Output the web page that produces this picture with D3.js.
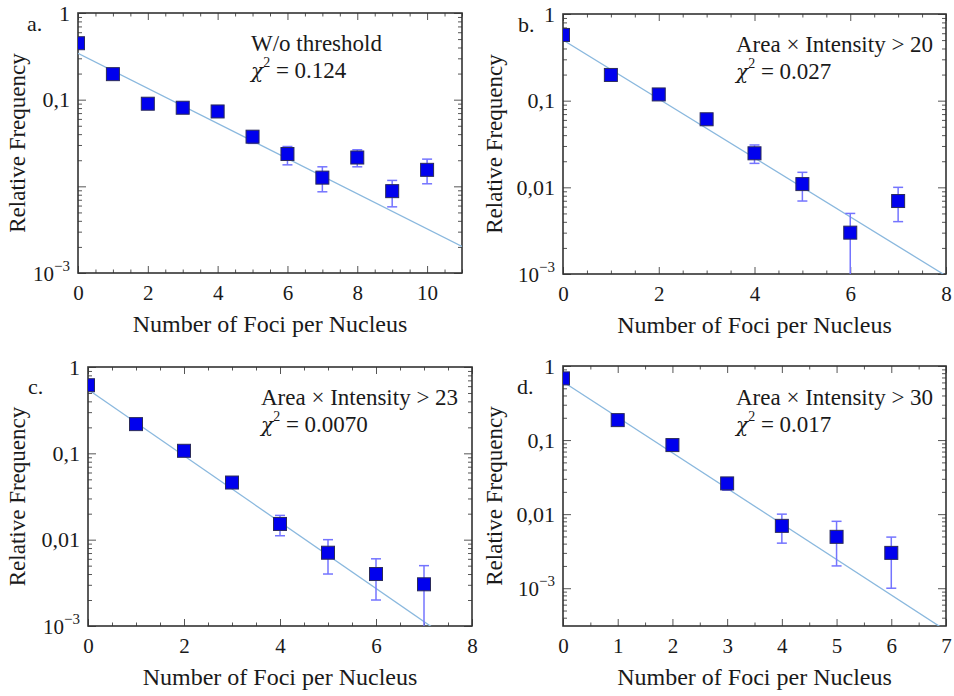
<!DOCTYPE html>
<html>
<head>
<meta charset="utf-8">
<script src="https://cdn.jsdelivr.net/npm/d3@7"></script>
<style>
  body { margin: 0; background: #fff; }
  svg text { font-family: "Liberation Serif", "Times New Roman", serif; fill: #1a1a1a; }
</style>
</head>
<body>
<svg id="chart" width="954" height="696"></svg>
<script>
// panel a: no threshold
let focA = [0, 1, 2, 3, 4, 5, 6, 7, 8, 9, 10];
let freqA = [0.448, 0.197, 0.0898, 0.0807, 0.0731, 0.0374, 0.0236, 0.0126, 0.0215, 0.0088, 0.0155];
let lowA = [0.44, 0.19, 0.087, 0.078, 0.070, 0.0313, 0.0177, 0.00865, 0.0168, 0.0058, 0.0107];
let highA = [0.456, 0.204, 0.093, 0.084, 0.076, 0.042, 0.0288, 0.0168, 0.0264, 0.0117, 0.0206];

// panel b: area x intensity > 20
let focB = [0, 1, 2, 3, 4, 5, 6, 7];
let freqB = [0.573, 0.198, 0.118, 0.061, 0.0247, 0.0109, 0.0030, 0.00695];
let lowB = [0.56, 0.19, 0.112, 0.056, 0.0189, 0.00695, 0.0008, 0.00402];
let highB = [0.585, 0.206, 0.124, 0.066, 0.0308, 0.0149, 0.005, 0.01];

// panel c: area x intensity > 23
let focC = [0, 1, 2, 3, 4, 5, 6, 7];
let freqC = [0.615, 0.218, 0.107, 0.0459, 0.0152, 0.00706, 0.0040, 0.00304];
let lowC = [0.60, 0.21, 0.102, 0.040, 0.0111, 0.0040, 0.002, 0.0008];
let highC = [0.63, 0.226, 0.112, 0.052, 0.0191, 0.01, 0.006, 0.005];

// panel d: area x intensity > 30
let focD = [0, 1, 2, 3, 4, 5, 6];
let freqD = [0.68, 0.186, 0.0856, 0.026, 0.00695, 0.00494, 0.0030];
let lowD = [0.66, 0.178, 0.081, 0.021, 0.00406, 0.002, 0.001];
let highD = [0.70, 0.194, 0.090, 0.031, 0.01, 0.008, 0.0049];

// exponential fits: amplitude and decades lost per focus
let fitAmp = [0.343, 0.50, 0.548, 0.614];
let fitDecay = [0.2026, 0.34, 0.384, 0.48];

let xTicksA = [0, 2, 4, 6, 8, 10];
let xTicksB = [0, 2, 4, 6, 8];
let xTicksC = [0, 2, 4, 6, 8];
let xTicksD = [0, 1, 2, 3, 4, 5, 6, 7];

let yTicks = [1, 0.1, 0.01, 0.001];
let yLabelsA = ["1", "0,1", "", "10^-3"];
let yLabelsBCD = ["1", "0,1", "0,01", "10^-3"];

let letters = ["a.", "b.", "c.", "d."];
let notes = ["W/o threshold", "Area × Intensity > 20", "Area × Intensity > 23", "Area × Intensity > 30"];
let chis = ["0.124", "0.027", "0.0070", "0.017"];

let panels = [
    {x: focA, y: freqA, lo: lowA, hi: highA, xMax: 11, yMin: 1e-3, xTicks: xTicksA, yLabels: yLabelsA,
     l: 78, t: 13, w: 384, h: 260, titleX: 20, letter: [27, 31], note: [251, 51]},
    {x: focB, y: freqB, lo: lowB, hi: highB, xMax: 8, yMin: 1e-3, xTicks: xTicksB, yLabels: yLabelsBCD,
     l: 563, t: 14, w: 383, h: 260, titleX: 497, letter: [518, 32], note: [736, 52]},
    {x: focC, y: freqC, lo: lowC, hi: highC, xMax: 8, yMin: 1e-3, xTicks: xTicksC, yLabels: yLabelsBCD,
     l: 88, t: 367, w: 384, h: 259, titleX: 20, letter: [28, 394], note: [261, 405]},
    {x: focD, y: freqD, lo: lowD, hi: highD, xMax: 7, yMin: Math.pow(10, -3.51), xTicks: xTicksD, yLabels: yLabelsBCD,
     l: 563, t: 366, w: 383, h: 260, titleX: 497, letter: [517, 394], note: [736, 405]}
];

let svg = d3.select("#chart");

panels.forEach(function (p, i) {
    let x = d3.scaleLinear().domain([0, p.xMax]).range([0, p.w]);
    let y = d3.scaleLog().domain([p.yMin, 1]).range([p.h, 0]);

    let g = svg.append("g").attr("transform", "translate(" + p.l + "," + p.t + ")");

    g.append("clipPath").attr("id", "clip" + i)
        .append("rect").attr("width", p.w).attr("height", p.h);

    // minor ticks
    let xMinor = d3.range(0, p.xMax + 0.001, 0.5).filter(v => p.xTicks.indexOf(v) < 0);
    let yMinor = [];
    [0.1, 0.01, 0.001, 0.0001].forEach(function (dec) {
        for (let k = 2; k <= 9; k++) {
            let v = dec * k;
            if (v >= p.yMin && v < 1) yMinor.push(v);
        }
    });

    function tickAxis(axis, values, size, tr) {
        let a = g.append("g").attr("transform", tr)
            .call(axis.tickValues(values).tickSizeInner(-size).tickSizeOuter(0).tickFormat(""));
        a.select(".domain").remove();
        a.selectAll("line").attr("stroke", "#555").attr("stroke-width", 1);
        return a;
    }
    tickAxis(d3.axisBottom(x), xMinor, 3.5, "translate(0," + p.h + ")");
    tickAxis(d3.axisTop(x), xMinor, 3.5, "translate(0,0)");
    tickAxis(d3.axisTop(x), p.xTicks, 7, "translate(0,0)");
    tickAxis(d3.axisLeft(y), yMinor, 4, "translate(0,0)");
    tickAxis(d3.axisRight(y), yMinor, 4, "translate(" + p.w + ",0)");
    tickAxis(d3.axisRight(y), yTicks.filter(v => v >= p.yMin), 8, "translate(" + p.w + ",0)");

    // labelled bottom axis
    let bx = g.append("g").attr("transform", "translate(0," + p.h + ")")
        .call(d3.axisBottom(x).tickValues(p.xTicks).tickSizeInner(-7).tickSizeOuter(0).tickPadding(12).tickFormat(d3.format("d")));
    bx.select(".domain").remove();
    bx.selectAll("line").attr("stroke", "#555");
    bx.selectAll("text").attr("font-size", 21).style("font-family", "Liberation Serif").attr("fill", "#1a1a1a");

    // labelled left axis
    let ly = g.append("g")
        .call(d3.axisLeft(y).tickValues(yTicks.filter(v => v >= p.yMin)).tickSizeInner(-8).tickSizeOuter(0).tickPadding(8)
            .tickFormat(function (d) { return p.yLabels[yTicks.indexOf(d)]; }));
    ly.select(".domain").remove();
    ly.selectAll("line").attr("stroke", "#555");
    ly.selectAll("text").attr("font-size", 22).style("font-family", "Liberation Serif").attr("fill", "#1a1a1a")
        .each(function (d) {
            let s = d3.select(this).text();
            if (s.indexOf("^") >= 0) {
                let parts = s.split("^");
                d3.select(this).text("");
                d3.select(this).append("tspan").attr("font-size", 21).text(parts[0]);
                d3.select(this).append("tspan").attr("font-size", 15).attr("dy", -10).text(parts[1].replace("-", "\u2212"));
            }
        });

    // frame
    g.append("rect").attr("width", p.w).attr("height", p.h)
        .attr("fill", "none").attr("stroke", "#333").attr("stroke-width", 1.6);

    let plot = g.append("g").attr("clip-path", "url(#clip" + i + ")");

    // fit line
    let line = d3.line()
        .x(d => x(d))
        .y(d => y(fitAmp[i] * Math.pow(10, -fitDecay[i] * d)));
    plot.append("path").datum([0, p.xMax])
        .attr("d", line).attr("fill", "none")
        .attr("stroke", "#8ab8de").attr("stroke-width", 1.3);

    // error bars
    let err = plot.selectAll(".err").data(p.x).enter().append("g").attr("class", "err")
        .attr("stroke", "#7474ff").attr("stroke-width", 1.5);
    err.append("line")
        .attr("x1", d => x(d)).attr("x2", d => x(d))
        .attr("y1", (d, j) => y(p.lo[j])).attr("y2", (d, j) => y(p.hi[j]));
    err.append("line")
        .attr("x1", d => x(d) - 5).attr("x2", d => x(d) + 5)
        .attr("y1", (d, j) => y(p.lo[j])).attr("y2", (d, j) => y(p.lo[j]));
    err.append("line")
        .attr("x1", d => x(d) - 5).attr("x2", d => x(d) + 5)
        .attr("y1", (d, j) => y(p.hi[j])).attr("y2", (d, j) => y(p.hi[j]));

    // markers
    plot.selectAll(".pt").data(p.x).enter().append("rect").attr("class", "pt")
        .attr("x", d => x(d) - 6.5).attr("y", (d, j) => y(p.y[j]) - 6.5)
        .attr("width", 13).attr("height", 13)
        .attr("fill", "#0000ee").attr("stroke", "#2b2b5a").attr("stroke-width", 1);

    // titles
    svg.append("text")
        .attr("x", p.l + p.w / 2).attr("y", p.t + p.h + 59)
        .attr("text-anchor", "middle").attr("font-size", 24)
        .text("Number of Foci per Nucleus");
    svg.append("text")
        .attr("transform", "translate(" + p.titleX + "," + (p.t + p.h / 2) + ") rotate(-90)")
        .attr("text-anchor", "middle").attr("dominant-baseline", "middle").attr("font-size", 23)
        .text("Relative Frequency");

    svg.append("text").attr("x", p.letter[0]).attr("y", p.letter[1]).attr("font-size", 22).text(letters[i]);

    svg.append("text").attr("x", p.note[0]).attr("y", p.note[1]).attr("font-size", 23).text(notes[i]);
    let chi = svg.append("text").attr("x", p.note[0]).attr("y", p.note[1] + 27).attr("font-size", 23);
    chi.append("tspan").style("font-family", "DejaVu Serif").attr("font-style", "italic").attr("font-size", 20).text("χ");
    chi.append("tspan").attr("font-size", 14).attr("dy", -11).text("2");
    chi.append("tspan").attr("dy", 11).text(" = " + chis[i]);
});
</script>
</body>
</html>
